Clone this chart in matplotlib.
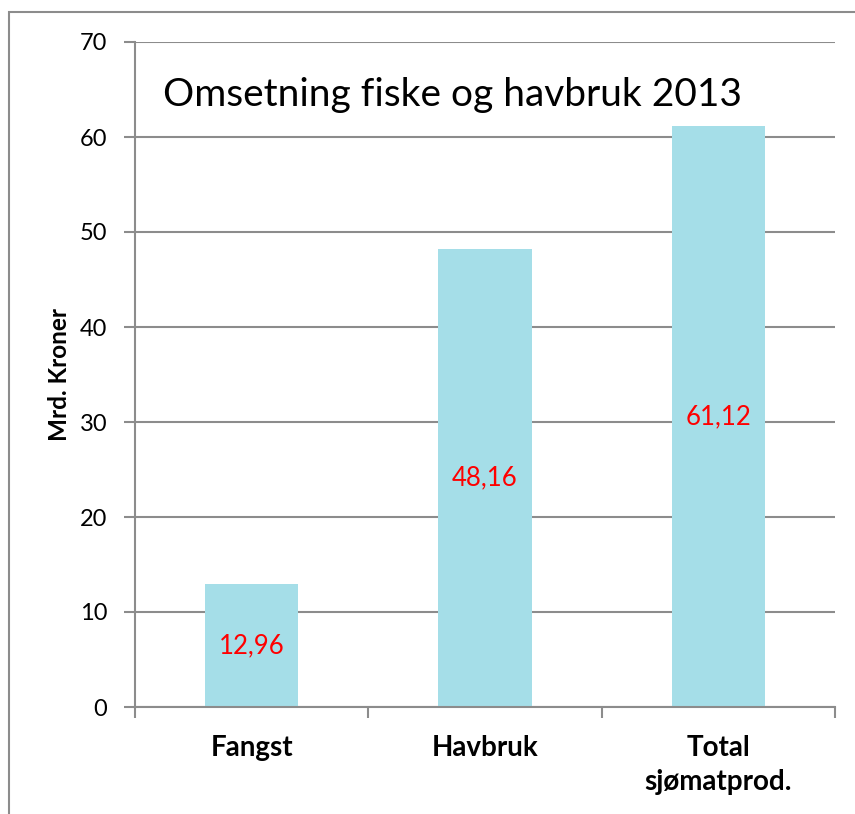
import matplotlib as mpl
mpl.use("Agg")
import matplotlib.pyplot as plt
from matplotlib.patches import Rectangle
from matplotlib.transforms import blended_transform_factory

# data
categories = ["Fangst", "Havbruk", "Total\nsjømatprod."]
values = [12.96, 48.16, 61.12]
value_labels = ["12,96", "48,16", "61,12"]
yticks = [0, 10, 20, 30, 40, 50, 60, 70]

plt.rcParams['font.family'] = ['Lato', 'DejaVu Sans']
gray = '#8c8c8c'
barcolor = '#a5dee8'

fig = plt.figure(figsize=(8.55, 8.14), dpi=100)
ax = fig.add_axes([135/855, 1-707/814, 700/855, 665/814])

# outer frame (chart area border)
fig.patches.append(Rectangle((9/855, -0.1), 2, 1-12/814+0.1, transform=fig.transFigure,
                             fill=False, edgecolor=gray, lw=1.5))

xpos = list(range(len(categories)))
ax.bar(xpos, values, width=0.4, color=barcolor, zorder=2)
for x, v, lab in zip(xpos, values, value_labels):
    ax.text(x, v/2, lab, color='red', fontsize=18.5, ha='center', va='center', zorder=3)

ax.set_xlim(-0.5, 2.5)
ax.set_ylim(0, 70)
ax.set_yticks(yticks)
ax.set_yticklabels([str(t) for t in yticks], fontsize=17)
ax.yaxis.grid(True, color=gray, lw=1.5, zorder=0)
ax.set_axisbelow(True)

ax.set_xticks([-0.5, 0.5, 1.5, 2.5])
ax.set_xticklabels([])
ax.set_xticks(xpos, minor=True)
ax.set_xticklabels(categories, minor=True, fontsize=20, fontweight='bold', linespacing=1.4)
ax.tick_params(axis='x', which='minor', length=0, pad=20)
ax.tick_params(axis='x', which='major', length=8, color=gray, width=1.5)
ax.tick_params(axis='y', length=8, color=gray, width=1.5, pad=12)

for s in ['top', 'right']:
    ax.spines[s].set_visible(False)
for s in ['left', 'bottom']:
    ax.spines[s].set_color(gray)
    ax.spines[s].set_linewidth(1.5)

ax.set_ylabel("Mrd. Kroner", fontsize=17.5, fontweight='bold', labelpad=6)
ax.text(0.04, 64.4, "Omsetning fiske og havbruk 2013", fontsize=28, ha='left', va='center',
        transform=blended_transform_factory(ax.transAxes, ax.transData))

plt.savefig("out.png", dpi=100)
